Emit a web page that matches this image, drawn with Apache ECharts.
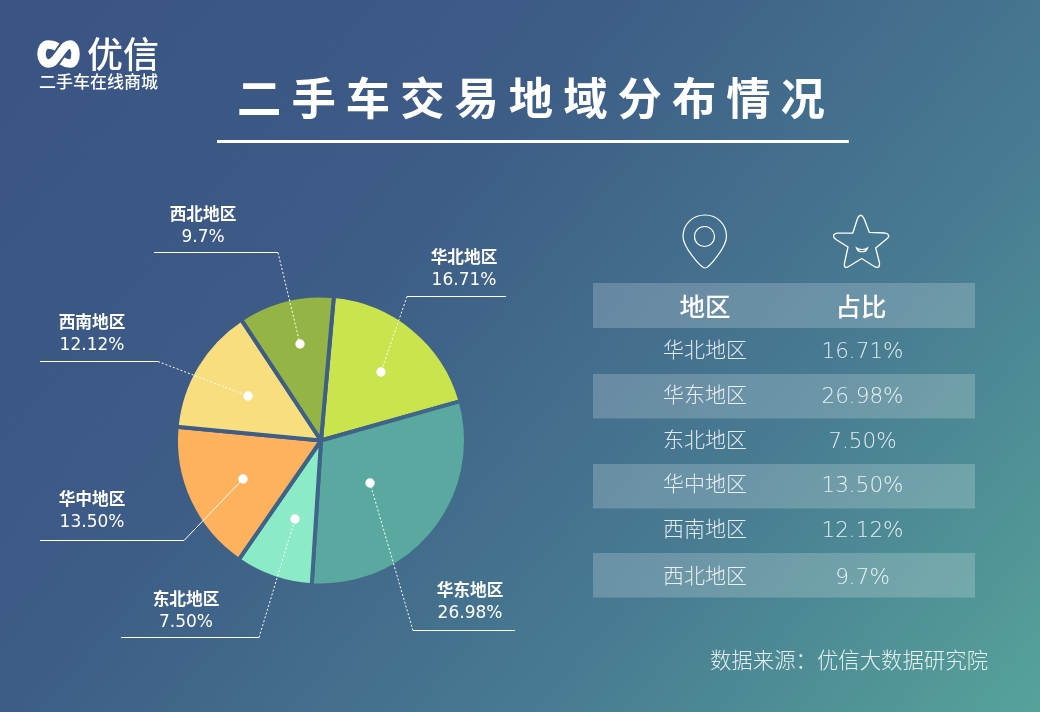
<!DOCTYPE html>
<html><head><meta charset="utf-8">
<style>html,body{margin:0;padding:0;background:#3a5485}#c{width:1040px;height:712px}</style>
<script src="https://cdn.jsdelivr.net/npm/echarts@6/dist/echarts.min.js"></script>
</head><body><div id="c"></div>
<script>
const regions = ['华北地区','华东地区','东北地区','华中地区','西南地区','西北地区'];
// Printed figures, as the labels and the table state them.
const valueLabels = ['16.71%','26.98%','7.50%','13.50%','12.12%','9.7%'];
// Slice sizes in % of the circle, measured from the drawn pie (the reference's
// wedges are not exactly proportional to its printed figures).
const sliceShares = [19.2,30.4,8.6,16.9,14.2,10.7];
const colors = ['#cae44e','#5aa9a0','#8bebc6','#ffb25e','#f8de7e','#95b446'];
const tableHead = ['地区','占比'];
const titleText = '二 手 车 交 易 地 域 分 布 情 况';
const sourceText = '数据来源：优信大数据研究院';

// layout (pixels): label centre, underline y & ends, elbow, dot
const labelCx = [464,470,186,92,92,203];
const labelCy = [268,601,610,510,333,225];
const lineY = [296.5,630.5,637.5,540.5,361.5,252.5];
const lineFar = [506,515,121,40,40,154];
const elbowX = [407,413,259,184,158,278];
const dotX = [381,370,295,243,248,300];
const dotY = [372,483,519,479,396,344];
const solidLeader = [false,false,false,true,false,false];
const rowY = [350,395,440,484,529,576];
const stripeY = [374,464,553];

const CJK = '"Noto Sans CJK SC"';
const NUM = '"DejaVu Sans"';
const stops = [
  {offset:0,color:'#3a5484'},{offset:0.35,color:'#3d5c86'},
  {offset:0.7,color:'#487c92'},{offset:1,color:'#56a39a'}];
const bg = new echarts.graphic.LinearGradient(60,-40,1000,760,stops,true);

const shapes = {
  logoMark:'M57 47 C54 45 50 44.5 48 44.5 C44 44.5 41.5 49 41.5 54 C41.5 59.5 44.5 63.5 48.5 63.5 C53 63.5 55 60 58 56 L61 52 C64 48 66 44.5 70 44.5 C73.5 44.5 75.5 49 75.5 54 C75.5 59.5 73.5 63.5 70 63.5 C67 63.5 65 63 62 61',
  pinIcon:'M705 268 C701 268 683 247 683 236.5 C683 224 693 215 705 215 C717 215 726.5 224 726.5 236.5 C726.5 247 709 268 705 268 Z',
  starIcon:'M852.8 233 L857.5 218.5 Q860.7 212 864 218.5 L869.3 232.3 L885 233 Q892 235 886 239.5 L875.7 248 L879.5 263 Q880 270 873.5 266 L861.7 258.5 L849.5 266 Q843.5 270 844.5 263 L848 247 L836 239.5 Q830.5 235 837 233.2 Z',
  smileIcon:'M856.5 248 C858 253 866 253 867.5 248 C865 250 859 250 856.5 248 Z'
};
Object.keys(shapes).forEach(k=>echarts.graphic.registerShape(k,echarts.graphic.extendPath(shapes[k],{})));

function txt(x,y,text,size,font,weight,fill){
  return {type:'text',z:20,x,y,style:{text,x:0,y:0,fill:fill||'#fff',align:'center',verticalAlign:'middle',
    font:`${weight||400} ${size}px ${font||CJK}`,textAlign:'center',textVerticalAlign:'middle'}};
}
const gfx = [];
// logo
gfx.push({type:'logoMark',z:20,style:{fill:null,stroke:'#fff',lineWidth:8.5,lineCap:'butt'}});
gfx.push(txt(123,54,'优信',36,CJK,500));
gfx.push(txt(98.5,82,'二手车在线商城',17,CJK,500));
// title
gfx.push(txt(531,98,titleText,44.3,CJK,700));
gfx.push({type:'rect',z:20,shape:{x:217,y:140,width:632,height:3},style:{fill:'#fff'}});
// icons
gfx.push({type:'pinIcon',z:20,style:{fill:null,stroke:'#fff',lineWidth:1.2}});
gfx.push({type:'circle',z:20,shape:{cx:704.5,cy:236.5,r:10},style:{fill:null,stroke:'#fff',lineWidth:1.2}});
gfx.push({type:'starIcon',z:20,style:{fill:null,stroke:'#fff',lineWidth:1.3,lineJoin:'round'}});
gfx.push({type:'smileIcon',z:20,style:{fill:null,stroke:'#fff',lineWidth:1.2}});
// table
gfx.push({type:'rect',z:5,shape:{x:593,y:283,width:382,height:45},style:{fill:'rgba(255,255,255,0.2)'}});
stripeY.forEach(y=>gfx.push({type:'rect',z:5,shape:{x:593,y,width:382,height:44.5},style:{fill:'rgba(255,255,255,0.2)'}}));
gfx.push(txt(705,306,tableHead[0],25.5,CJK,500));
gfx.push(txt(861,306,tableHead[1],25.5,CJK,500));
regions.forEach((r,i)=>{
  gfx.push(txt(705,rowY[i]-0.5,r,21,CJK,300,'rgba(255,255,255,0.85)'));
  gfx.push(txt(862.5,rowY[i]+2.5,valueLabels[i],21.5,NUM,300,'rgba(255,255,255,0.85)'));
  // leader: solid underline, elbow segment to the dot, dot
  gfx.push({type:'line',z:20,shape:{x1:lineFar[i],y1:lineY[i],x2:elbowX[i],y2:lineY[i]},style:{stroke:'#fff',lineWidth:1}});
  gfx.push({type:'line',z:20,shape:{x1:elbowX[i],y1:lineY[i],x2:dotX[i],y2:dotY[i]},
    style:{stroke:'#fff',lineWidth:1,lineDash:solidLeader[i]?null:[2,2]}});
  gfx.push({type:'circle',z:21,shape:{cx:dotX[i],cy:dotY[i],r:4.7},style:{fill:'#fff'}});
});
gfx.push(txt(849,660,sourceText,21.4,CJK,300,'rgba(255,255,255,0.85)'));

const chart = echarts.init(document.getElementById('c'));
chart.setOption({
  backgroundColor:bg,
  animation:false,
  graphic:{elements:gfx},
  series:[{
    type:'pie',
    center:[321,440.5],
    radius:[0,145],
    startAngle:84.9,
    clockwise:true,
    silent:true,
    data:regions.map((name,i)=>({name,value:sliceShares[i],itemStyle:{color:colors[i]}})),
    itemStyle:{borderColor:bg,borderWidth:4},
    label:{show:true,position:'outside',color:'#fff',
      formatter:p=>`{n|${p.name}}\n{v|${valueLabels[p.dataIndex]}}`,
      rich:{n:{fontFamily:CJK,fontWeight:700,fontSize:16.7,lineHeight:24,color:'#fff',align:'center'},
            v:{fontFamily:NUM,fontWeight:400,fontSize:17,lineHeight:24,color:'#fff',align:'center'}}},
    labelLine:{show:false},
    labelLayout:p=>{const i=p.dataIndex;return {
      x:labelCx[i],y:labelCy[i]+0.5,align:'center',verticalAlign:'middle'};}
  }]
});
</script></body></html>
